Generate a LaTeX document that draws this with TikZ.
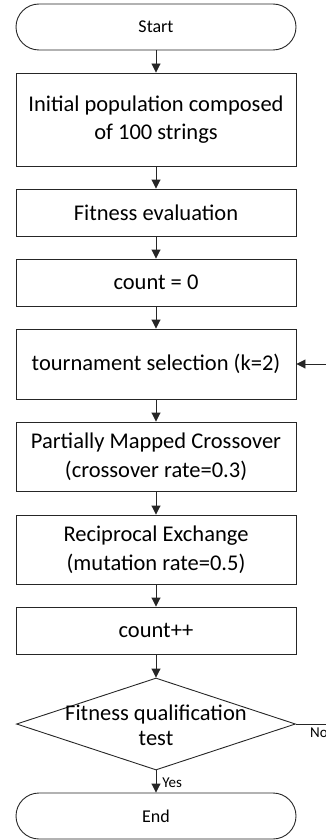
\documentclass[tikz,border=0pt]{standalone}
\usepackage{fontspec}
\setmainfont{Carlito}
\usetikzlibrary{arrows.meta,shapes.geometric}
\begin{document}
\begin{tikzpicture}[x=1pt,y=-1pt,
  line/.style={draw=black!85, line width=0.9pt},
  box/.style={line, rectangle, minimum width=280pt, inner sep=0pt, align=center, font=\fontsize{22.5}{28.5}\selectfont},
  term/.style={line, rectangle, rounded corners=23pt, minimum width=280pt, minimum height=46pt, inner sep=0pt, font=\fontsize{18}{21}\selectfont},
  conn/.style={line, -{Triangle[width=9pt,length=9pt]}},
  small/.style={font=\fontsize{15}{17}\selectfont, inner sep=0pt}]
\useasboundingbox (0,0) rectangle (326,840);
\node[term] (start) at (156,27) {Start};
\node[box, minimum height=93pt] (init) at (156,119.5) {Initial population composed\\of 100 strings};
\node[box, minimum height=47pt] (fit) at (156,212.5) {Fitness evaluation};
\node[box, minimum height=47pt] (cnt0) at (156,282.5) {count = 0};
\node[box, minimum height=70pt] (tour) at (156,364) {tournament selection (k=2)};
\node[box, minimum height=69pt] (pmx) at (156,456.5) {Partially Mapped Crossover\\(crossover rate=0.3)};
\node[box, minimum height=69pt] (rex) at (156,549.5) {Reciprocal Exchange\\(mutation rate=0.5)};
\node[box, minimum height=47pt] (cntpp) at (156,630.5) {count++};
\node[line, diamond, minimum width=279pt, minimum height=92pt, inner sep=0pt, shape aspect=3] (test) at (156,724) {};
\node[align=center, inner sep=0pt, font=\fontsize{22.5}{25}\selectfont] (testtxt) at (156,725) {Fitness qualification\\test};
\node[term] (end) at (156,816) {End};
\coordinate (nr) at (345,724);
\draw[conn] (start) -- (init);
\draw[conn] (init) -- (fit);
\draw[conn] (fit) -- (cnt0);
\draw[conn] (cnt0) -- (tour);
\draw[conn] (tour) -- (pmx);
\draw[conn] (pmx) -- (rex);
\draw[conn] (rex) -- (cntpp);
\draw[conn] (cntpp) -- (test.north);
\draw[conn] (test.south) -- node[small, anchor=west, xshift=6pt, yshift=-1pt] (yes) {Yes} (end);
\draw[conn] (test.east) -- (nr) |- (tour.east);
\node[small, anchor=north west] (no) at (310,728) {No};
\end{tikzpicture}
\end{document}
